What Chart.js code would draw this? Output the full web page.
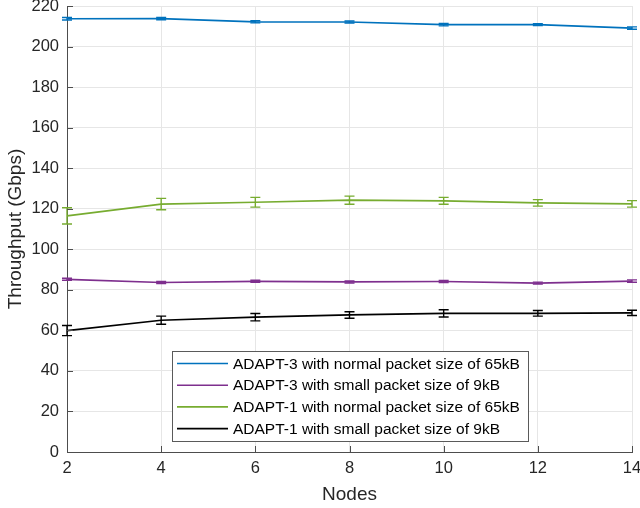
<!DOCTYPE html>
<html lang="en">
<head>
    <meta charset="UTF-8">
    <title>Throughput</title>
    <script src="https://cdn.jsdelivr.net/npm/chart.js"></script>
    <style>
        html, body { margin: 0; padding: 0; background: #fff; }
        #wrap { width: 640px; height: 508px; }
    </style>
</head>
<body>

<div id="wrap"><canvas id="chart"></canvas></div>

<script>
    var nodes = [2, 4, 6, 8, 10, 12, 14]

    var adapt3Normal = [213.7, 213.8, 212.2, 212.1, 210.8, 210.8, 209.1]
    var adapt3NormalErr = [0.6, 0.6, 0.5, 0.5, 0.6, 0.5, 0.6]
    var adapt3Small = [85.2, 83.6, 84.2, 83.9, 84.1, 83.3, 84.3]
    var adapt3SmallErr = [0.5, 0.5, 0.5, 0.5, 0.5, 0.5, 0.6]
    var adapt1Normal = [116.5, 122.3, 123.2, 124.2, 123.9, 122.9, 122.4]
    var adapt1NormalErr = [4.0, 2.8, 2.4, 2.0, 1.7, 1.6, 1.6]
    var adapt1Small = [59.9, 65.0, 66.5, 67.6, 68.4, 68.4, 68.6]
    var adapt1SmallErr = [2.5, 2.0, 1.8, 1.6, 1.8, 1.4, 1.3]

    var yTicks = [0, 20, 40, 60, 80, 100, 120, 140, 160, 180, 200, 220]
    var xTicks = [2, 4, 6, 8, 10, 12, 14]

    var font = "'Liberation Sans', Arial, Helvetica, sans-serif"
    var axisColor = '#4d4d4d'
    var textColor = '#262626'

    function series(label, values, errs, color) {
        return {
            label: label,
            data: nodes.map(function (n, i) { return {x: n, y: values[i]} }),
            errors: errs,
            borderColor: color,
            backgroundColor: color,
            borderWidth: 1.7,
            pointRadius: 0,
            tension: 0,
            clip: false
        }
    }

    // vertical error bars with caps, drawn on top of each line
    var errorBars = {
        id: 'errorBars',
        afterDatasetsDraw: function (chart) {
            var ctx = chart.ctx
            var xs = chart.scales.x, ys = chart.scales.y
            chart.data.datasets.forEach(function (ds) {
                ctx.save()
                ctx.strokeStyle = ds.borderColor
                ctx.lineWidth = 1.4
                ds.data.forEach(function (p, i) {
                    var px = xs.getPixelForValue(p.x)
                    var top = ys.getPixelForValue(p.y + ds.errors[i])
                    var bot = ys.getPixelForValue(p.y - ds.errors[i])
                    ctx.beginPath()
                    ctx.moveTo(px, top); ctx.lineTo(px, bot)
                    ctx.moveTo(px - 5, top); ctx.lineTo(px + 5, top)
                    ctx.moveTo(px - 5, bot); ctx.lineTo(px + 5, bot)
                    ctx.stroke()
                })
                ctx.restore()
            })
        }
    }

    // inward tick marks on left and bottom axes
    var innerTicks = {
        id: 'innerTicks',
        afterDraw: function (chart) {
            var ctx = chart.ctx, a = chart.chartArea
            var xs = chart.scales.x, ys = chart.scales.y
            ctx.save()
            ctx.strokeStyle = axisColor
            ctx.lineWidth = 1
            ctx.beginPath()
            yTicks.forEach(function (v) {
                var py = Math.round(ys.getPixelForValue(v)) + 0.5
                ctx.moveTo(a.left, py); ctx.lineTo(a.left + 6, py)
            })
            xTicks.forEach(function (v) {
                var px = Math.round(xs.getPixelForValue(v)) + 0.5
                ctx.moveTo(px, a.bottom); ctx.lineTo(px, a.bottom - 6)
            })
            ctx.stroke()
            ctx.restore()
        }
    }

    // boxed legend inside the lower part of the plot
    var boxLegend = {
        id: 'boxLegend',
        afterDraw: function (chart) {
            var ctx = chart.ctx, a = chart.chartArea
            var bx = a.left + 105, by = a.bottom - 101, bw = 356, bh = 90
            ctx.save()
            ctx.fillStyle = '#fff'
            ctx.fillRect(bx, by, bw, bh)
            ctx.strokeStyle = '#5a5a5a'
            ctx.lineWidth = 1
            ctx.strokeRect(bx + 0.5, by + 0.5, bw, bh)
            ctx.font = '15.5px ' + font
            ctx.textBaseline = 'middle'
            chart.data.datasets.forEach(function (ds, i) {
                var ry = by + 12.5 + i * 21.7
                ctx.strokeStyle = ds.borderColor
                ctx.lineWidth = 1.6
                ctx.beginPath()
                ctx.moveTo(bx + 5, ry); ctx.lineTo(bx + 56, ry)
                ctx.stroke()
                ctx.fillStyle = '#000'
                ctx.fillText(ds.label, bx + 61, ry + 1)
            })
            ctx.restore()
        }
    }

    var canvas = document.getElementById("chart")
    var chart = new Chart(canvas, {
        type: 'line',
        data: {
            datasets: [
                series('ADAPT-3 with normal packet size of 65kB', adapt3Normal, adapt3NormalErr, '#0072BD'),
                series('ADAPT-3 with small packet size of 9kB', adapt3Small, adapt3SmallErr, '#7E2F8E'),
                series('ADAPT-1 with normal packet size of 65kB', adapt1Normal, adapt1NormalErr, '#77AC30'),
                series('ADAPT-1 with small packet size of 9kB', adapt1Small, adapt1SmallErr, '#000000')
            ]
        },
        options: {
            responsive: true,
            maintainAspectRatio: false,
            animation: false,
            layout: {padding: {top: 6, right: 8, left: 0, bottom: 0}},
            plugins: {
                legend: {display: false},
                tooltip: {enabled: false}
            },
            scales: {
                x: {
                    type: 'linear',
                    min: 2,
                    max: 14,
                    afterBuildTicks: function (s) { s.ticks = xTicks.map(function (v) { return {value: v} }) },
                    afterFit: function (s) { s.height = 56; s.paddingLeft = 0; s.paddingRight = 0 },
                    grid: {color: '#e6e6e6', drawTicks: false},
                    border: {display: true, color: axisColor, width: 1},
                    ticks: {color: textColor, font: {family: font, size: 16.5}, padding: 7, maxRotation: 0},
                    title: {display: true, text: 'Nodes', color: textColor,
                        font: {family: font, size: 19}, padding: {top: 0, bottom: 2}}
                },
                y: {
                    type: 'linear',
                    min: 0,
                    max: 220,
                    afterBuildTicks: function (s) { s.ticks = yTicks.map(function (v) { return {value: v} }) },
                    afterFit: function (s) { s.width = 67; s.paddingTop = 0; s.paddingBottom = 0 },
                    grid: {color: '#e6e6e6', drawTicks: false},
                    border: {display: true, color: axisColor, width: 1},
                    ticks: {color: textColor, font: {family: font, size: 16.5}, padding: 8},
                    title: {display: true, text: 'Throughput (Gbps)', color: textColor,
                        font: {family: font, size: 19}, padding: {top: 4, bottom: 0}}
                }
            }
        },
        plugins: [errorBars, innerTicks, boxLegend]
    })
</script>

</body>
</html>
